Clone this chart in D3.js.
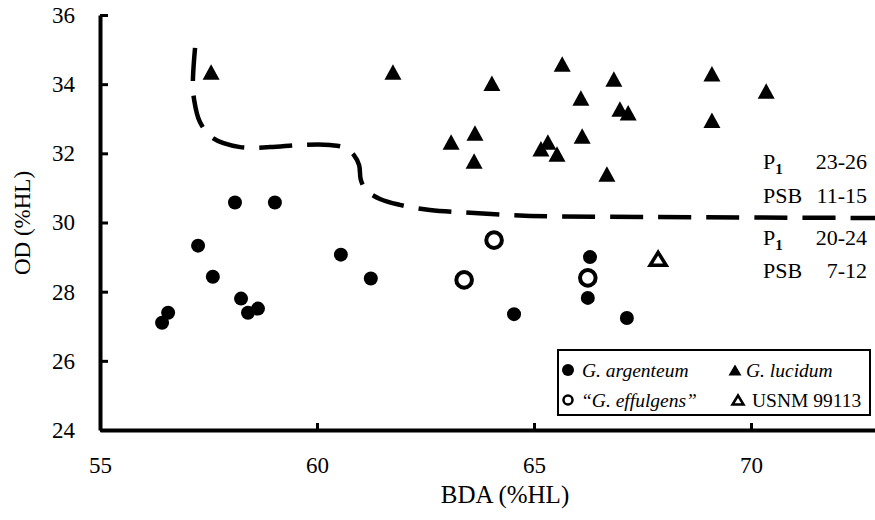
<!DOCTYPE html>
<html>
<head>
<meta charset="utf-8">
<script src="https://cdn.jsdelivr.net/npm/d3@7"></script>
<style>
  html, body { margin: 0; padding: 0; background: #fff; }
  svg { display: block; font-family: "Liberation Serif", "Times New Roman", serif; }
</style>
</head>
<body>
<svg id="chart" width="875" height="520"></svg>
<script>
'use strict'

// G. argenteum (filled circles)
const argenteumX = [56.43, 56.57, 57.26, 57.60, 58.11, 59.03, 58.25, 58.41, 58.64, 60.55, 61.24, 64.54, 66.29, 66.24, 67.14]
const argenteumY = [27.10, 27.39, 29.33, 28.43, 30.58, 30.58, 27.80, 27.39, 27.51, 29.07, 28.38, 27.35, 29.00, 27.82, 27.24]

// G. lucidum (filled triangles)
const lucidumX = [57.56, 61.75, 64.03, 65.65, 66.08, 66.11, 63.64, 63.09, 63.62, 65.16, 65.32, 65.53, 66.84, 66.98, 67.17, 66.68, 69.10, 69.10, 70.35]
const lucidumY = [34.35, 34.35, 34.03, 34.58, 33.60, 32.50, 32.59, 32.33, 31.78, 32.13, 32.33, 31.98, 34.15, 33.28, 33.17, 31.40, 34.30, 32.96, 33.80]

// "G. effulgens" (open circles)
const effulgensX = [64.08, 63.39, 66.24]
const effulgensY = [29.49, 28.34, 28.40]

// USNM 99113 (open triangle)
const usnmX = [67.86]
const usnmY = [28.95]

// dashed boundary line
const boundaryX = [57.19, 57.14, 57.17, 57.30, 57.60, 58.23, 58.92, 59.61, 60.30, 60.65, 60.85, 60.97, 61.01, 61.13, 61.45, 61.91, 62.60, 63.53, 64.91, 67.67, 73.0]
const boundaryY = [35.05, 34.04, 33.54, 32.91, 32.44, 32.18, 32.18, 32.24, 32.24, 32.16, 31.95, 31.66, 31.23, 30.94, 30.68, 30.51, 30.36, 30.28, 30.19, 30.16, 30.13]

const xTicks = [55, 60, 65, 70]
const yTicks = [24, 26, 28, 30, 32, 34, 36]

const svg = d3.select('#chart')
const x = d3.scaleLinear().domain([55, 73]).range([100, 881.2])
const y = d3.scaleLinear().domain([24, 36]).range([430, 15])
const serif = '"Liberation Serif", "Times New Roman", serif'

function tri (w, h) {
  return `M0,${-h / 2}L${w / 2},${h / 2}L${-w / 2},${h / 2}Z`
}

// axes
const xAxis = svg.append('g')
  .attr('transform', `translate(0,${y(24)})`)
  .call(d3.axisBottom(x).tickValues(xTicks).tickSizeInner(-7).tickSizeOuter(0).tickFormat(d3.format('d')))
xAxis.selectAll('text').attr('dy', null).attr('y', 43)

const yAxis = svg.append('g')
  .attr('transform', `translate(${x(55)},0)`)
  .call(d3.axisLeft(y).tickValues(yTicks).tickSizeInner(-8).tickSizeOuter(0).tickPadding(25).tickFormat(d3.format('d')))

xAxis.attr('font-family', serif).attr('font-size', 23)
yAxis.attr('font-family', serif).attr('font-size', 23)
svg.selectAll('.domain').attr('stroke', '#000').attr('stroke-width', 4)
svg.selectAll('.tick line').attr('stroke', '#000').attr('stroke-width', 3)
svg.selectAll('.tick text').attr('fill', '#000')

svg.append('text')
  .attr('x', 505).attr('y', 503)
  .attr('text-anchor', 'middle')
  .attr('font-size', 25)
  .text('BDA (%HL)')

svg.append('text')
  .attr('transform', 'translate(30,223) rotate(-90)')
  .attr('text-anchor', 'middle')
  .attr('font-size', 23)
  .text('OD (%HL)')

// boundary
const line = d3.line().x(d => x(d[0])).y(d => y(d[1])).curve(d3.curveCatmullRom)
svg.append('path')
  .datum(d3.zip(boundaryX, boundaryY))
  .attr('d', line)
  .attr('fill', 'none')
  .attr('stroke', '#000')
  .attr('stroke-width', 4.5)
  .attr('stroke-dasharray', '33,15')

// points
svg.append('g').selectAll('circle')
  .data(d3.zip(argenteumX, argenteumY))
  .join('circle')
  .attr('cx', d => x(d[0])).attr('cy', d => y(d[1]))
  .attr('r', 7).attr('fill', '#000')

svg.append('g').selectAll('path')
  .data(d3.zip(lucidumX, lucidumY))
  .join('path')
  .attr('transform', d => `translate(${x(d[0])},${y(d[1])})`)
  .attr('d', tri(17, 15.5)).attr('fill', '#000')

svg.append('g').selectAll('circle')
  .data(d3.zip(effulgensX, effulgensY))
  .join('circle')
  .attr('cx', d => x(d[0])).attr('cy', d => y(d[1]))
  .attr('r', 7.8).attr('fill', '#fff').attr('stroke', '#000').attr('stroke-width', 4)

svg.append('g').selectAll('path')
  .data(d3.zip(usnmX, usnmY))
  .join('path')
  .attr('transform', d => `translate(${x(d[0])},${y(d[1])})`)
  .attr('d', tri(16, 13)).attr('fill', '#fff').attr('stroke', '#000').attr('stroke-width', 3.5)

// meristic annotations
const notes = [
  { label: 'P', sub: '1', range: '23-26', yy: 169 },
  { label: 'PSB', sub: '', range: '11-15', yy: 203 },
  { label: 'P', sub: '1', range: '20-24', yy: 245 },
  { label: 'PSB', sub: '', range: '7-12', yy: 278 }
]
const ng = svg.append('g').attr('font-size', 22)
notes.forEach(n => {
  const t = ng.append('text').attr('x', 763).attr('y', n.yy)
  t.append('tspan').text(n.label)
  if (n.sub) t.append('tspan').attr('font-size', 15).attr('font-weight', 'bold').attr('dy', 5).text(n.sub)
  ng.append('text').attr('x', 867).attr('y', n.yy).attr('text-anchor', 'end').text(n.range)
})

// legend
const lg = svg.append('g')
lg.append('rect').attr('x', 558).attr('y', 350).attr('width', 312).attr('height', 65)
  .attr('fill', '#fff').attr('stroke', '#000').attr('stroke-width', 2)
lg.append('circle').attr('cx', 568).attr('cy', 370).attr('r', 6).attr('fill', '#000')
lg.append('path').attr('transform', 'translate(735,370)').attr('d', tri(13, 11)).attr('fill', '#000')
lg.append('circle').attr('cx', 568).attr('cy', 400).attr('r', 4.5).attr('fill', '#fff').attr('stroke', '#000').attr('stroke-width', 2.5)
lg.append('path').attr('transform', 'translate(738,400)').attr('d', tri(11, 9)).attr('fill', '#fff').attr('stroke', '#000').attr('stroke-width', 2.5)
lg.append('text').attr('x', 582).attr('y', 377).attr('font-size', 19.5).attr('font-style', 'italic').text('G. argenteum')
lg.append('text').attr('x', 746).attr('y', 377).attr('font-size', 19.5).attr('font-style', 'italic').text('G. lucidum')
lg.append('text').attr('x', 581).attr('y', 407).attr('font-size', 19.5).attr('font-style', 'italic').text('\u201cG. effulgens\u201d')
lg.append('text').attr('x', 752).attr('y', 407).attr('font-size', 19.5).text('USNM 99113')
</script>
</body>
</html>
